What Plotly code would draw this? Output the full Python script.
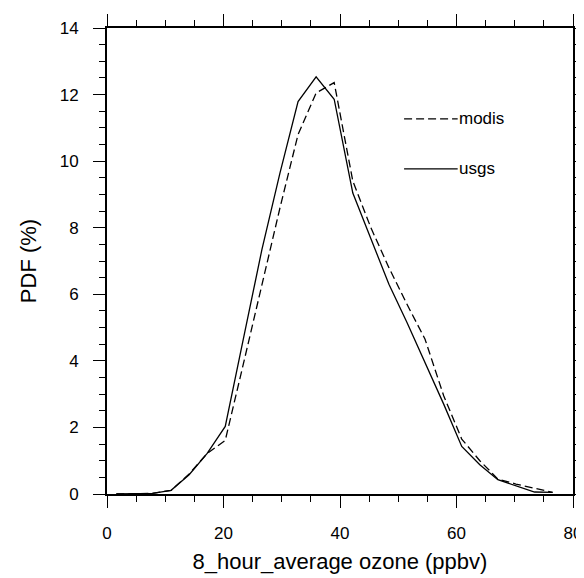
import plotly.graph_objects as go

# bin centres (ppbv)
ozone_bins = [1.6, 4.7, 7.8, 11.0, 14.1, 17.2, 20.3, 23.4, 26.6, 29.7, 32.8, 35.9, 39.0,
              42.2, 45.3, 48.4, 51.5, 54.6, 57.8, 60.9, 64.0, 67.1, 70.2, 73.4, 76.5]
modis_pdf = [0.0, 0.0, 0.02, 0.11, 0.6, 1.22, 1.61, 3.9, 6.3, 8.6, 10.8, 12.05, 12.36,
             9.4, 8.0, 6.8, 5.7, 4.65, 2.95, 1.65, 1.0, 0.45, 0.3, 0.17, 0.05]
usgs_pdf = [0.0, 0.0, 0.02, 0.11, 0.58, 1.22, 2.03, 4.65, 7.35, 9.65, 11.79, 12.53, 11.86,
            9.04, 7.68, 6.3, 5.15, 3.95, 2.7, 1.43, 0.88, 0.43, 0.25, 0.06, 0.05]
series_names = ["modis", "usgs"]
x_range = [0, 80]
y_range = [0, 14]

FONT = "Liberation Sans, Arial, Helvetica, sans-serif"

fig = go.Figure()
fig.add_trace(go.Scatter(x=ozone_bins, y=modis_pdf, mode="lines", name=series_names[0],
                         line=dict(color="black", width=1.3, dash="8px,4px")))
fig.add_trace(go.Scatter(x=ozone_bins, y=usgs_pdf, mode="lines", name=series_names[1],
                         line=dict(color="black", width=1.3)))
# empty trace that carries the label/title axes
fig.add_trace(go.Scatter(x=[], y=[], xaxis="x2", yaxis="y2", showlegend=False,
                         hoverinfo="skip"))

# legend drawn NCL-style (line sample + label)
legend_y = [11.27, 9.77]
legend_dash = ["8px,4px", "solid"]
for name, ly, dsh in zip(series_names, legend_y, legend_dash):
    fig.add_shape(type="line", xref="x", yref="y", x0=51.0, x1=60.2, y0=ly, y1=ly,
                  line=dict(color="black", width=1.3, dash=dsh))
    fig.add_annotation(x=60.1, y=ly, xref="x", yref="y", text=name, showarrow=False,
                       xanchor="left", yanchor="middle",
                       font=dict(family=FONT, size=17, color="black"))

frame_axis = dict(
    showline=True, linecolor="black", linewidth=1.5, mirror="allticks",
    ticks="outside", ticklen=12, tickwidth=1.3, tickcolor="black",
    showgrid=False, zeroline=False, automargin=False, showticklabels=False,
)
label_axis = dict(
    showline=False, ticks="outside", tickcolor="rgba(0,0,0,0)", tickwidth=1,
    showgrid=False, zeroline=False, automargin=False, showticklabels=True,
    tickfont=dict(family=FONT, size=17, color="black"),
)

fig.update_layout(
    xaxis=dict(range=x_range, dtick=20, tick0=0,
               minor=dict(dtick=5, ticklen=6, tickwidth=1, tickcolor="black", ticks="outside", showgrid=False),
               **frame_axis),
    yaxis=dict(range=y_range, dtick=2, tick0=0,
               minor=dict(dtick=0.5, ticklen=6, tickwidth=1, tickcolor="black", ticks="outside", showgrid=False),
               **frame_axis),
    xaxis2=dict(range=x_range, dtick=20, tick0=0, overlaying="x", side="bottom", anchor="y2",
                ticklen=24,
                title=dict(text="8_hour_average ozone (ppbv)", standoff=11,
                           font=dict(family=FONT, size=22, color="black")),
                **label_axis),
    yaxis2=dict(range=y_range, dtick=2, tick0=0, overlaying="y", side="left", anchor="x2",
                ticklen=24,
                title=dict(text="PDF (%)", standoff=16,
                           font=dict(family=FONT, size=22, color="black")),
                **label_axis),
)

# the page body adds an 8px offset; compensate so the plot box lands where the reference has it
fig.update_layout(
    width=576, height=570,
    margin=dict(l=99, r=11, t=20, b=84, pad=0),
    paper_bgcolor="white", plot_bgcolor="white",
    showlegend=False,
    font=dict(family=FONT, color="black"),
)

fig.write_html("out.html")
